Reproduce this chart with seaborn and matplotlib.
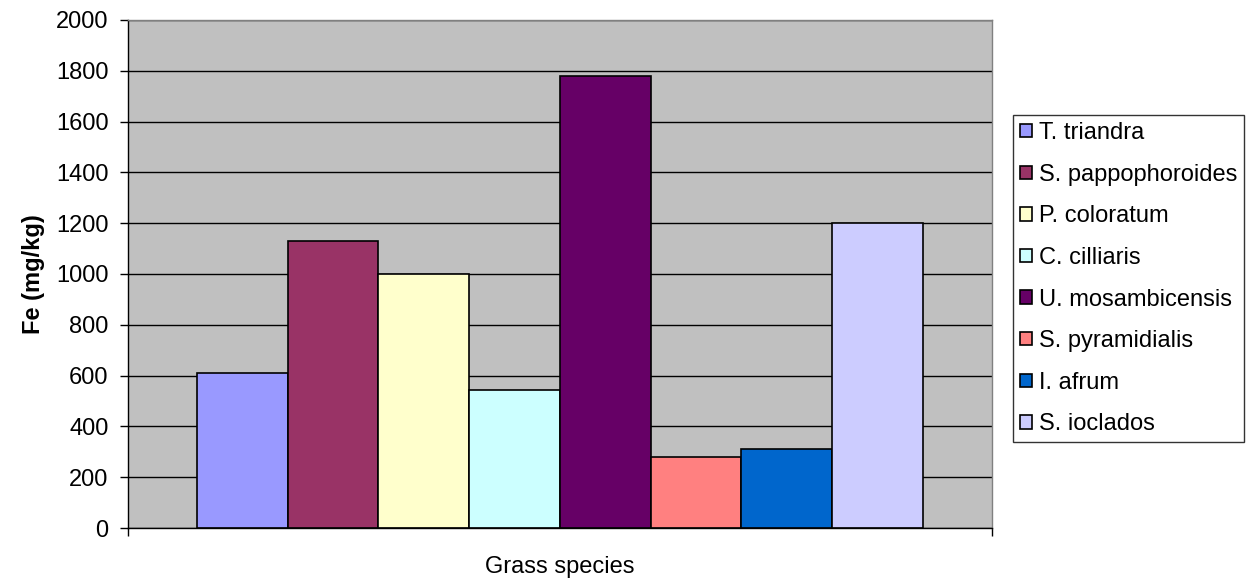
import matplotlib
matplotlib.use("Agg")
import matplotlib.pyplot as plt
import pandas as pd
import seaborn as sns

species = [
    "T. triandra",
    "S. pappophoroides",
    "P. coloratum",
    "C. cilliaris",
    "U. mosambicensis",
    "S. pyramidialis",
    "I. afrum",
    "S. ioclados",
]
fe_values = [610, 1130, 1000, 543, 1780, 280, 311, 1200]
bar_colors = ["#9999FF", "#993366", "#FFFFCC", "#CCFFFF", "#660066", "#FF8080", "#0066CC", "#CCCCFF"]
y_ticks = list(range(0, 2001, 200))

sns.set_style("white")
plt.rcParams["font.family"] = ["Liberation Sans", "DejaVu Sans"]
plt.rcParams["text.color"] = "black"
plt.rcParams["axes.labelcolor"] = "black"
plt.rcParams["xtick.color"] = "black"
plt.rcParams["ytick.color"] = "black"
fs = 17

df = pd.DataFrame({"group": ["all"] * len(species), "species": species, "fe": fe_values})

fig = plt.figure(figsize=(12.52, 5.81), dpi=100)
ax = fig.add_axes([0.1022, 0.0912, 0.6900, 0.8744])
sns.barplot(data=df, x="group", y="fe", hue="species", hue_order=species,
            palette=bar_colors, width=0.84, edgecolor="black", linewidth=1.2,
            saturation=1, ax=ax, legend=True)

ax.set_facecolor("#C0C0C0")
ax.set_ylim(0, 2000)
ax.set_xlim(-0.5, 0.5)
ax.set_yticks(y_ticks)
ax.set_yticklabels([str(t) for t in y_ticks], fontsize=fs, color="black")
ax.set_xticks([-0.5, 0.5])
ax.set_xticklabels(["", ""])
ax.tick_params(axis="y", left=True, direction="out", length=6, width=1, color="black", pad=8)
ax.tick_params(axis="x", bottom=True, direction="out", length=6, width=1, color="black")
ax.yaxis.grid(True, color="black", linewidth=1)
ax.set_axisbelow(True)
for side in ["top", "right"]:
    ax.spines[side].set_color("#808080")
    ax.spines[side].set_linewidth(1)
for side in ["left", "bottom"]:
    ax.spines[side].set_color("black")
    ax.spines[side].set_linewidth(1)

ax.set_ylabel("Fe (mg/kg)", fontsize=fs, fontweight="bold", labelpad=8, color="black")
ax.set_xlabel("Grass species", fontsize=fs, labelpad=11, color="black")

handles, labels = ax.get_legend_handles_labels()
leg = ax.legend(handles, labels, loc="upper left", bbox_to_anchor=(0.809, 0.802),
                bbox_transform=fig.transFigure, frameon=True, fancybox=False,
                edgecolor="black", fontsize=fs, handlelength=0.5, handleheight=0.5,
                handletextpad=0.3, labelspacing=0.83, borderpad=0.3, borderaxespad=0)
leg.get_frame().set_linewidth(1)
for t in leg.get_texts():
    t.set_color("black")

fig.savefig("out.png", dpi=100, facecolor="white")
plt.close(fig)
